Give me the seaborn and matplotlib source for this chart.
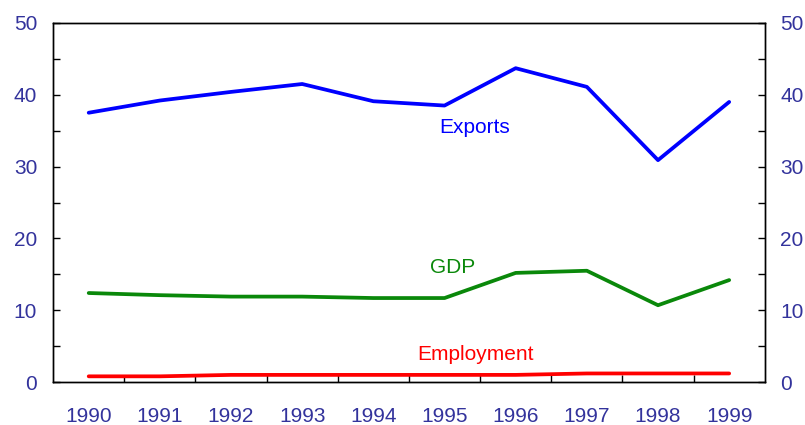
import matplotlib
matplotlib.use("Agg")
import matplotlib.pyplot as plt
import seaborn as sns
import pandas as pd
from matplotlib.ticker import MultipleLocator

years = [1990, 1991, 1992, 1993, 1994, 1995, 1996, 1997, 1998, 1999]
exports = [37.5, 39.2, 40.4, 41.5, 39.1, 38.5, 43.7, 41.1, 30.9, 39.0]
gdp = [12.4, 12.1, 11.9, 11.9, 11.7, 11.7, 15.2, 15.5, 10.7, 14.2]
employment = [0.8, 0.8, 1.0, 1.0, 1.0, 1.0, 1.0, 1.2, 1.2, 1.2]
series_names = ["Exports", "GDP", "Employment"]
colors = ["#0000ff", "#0a880a", "#ff0000"]
y_ticks = [0, 10, 20, 30, 40, 50]

df = pd.DataFrame({"year": years * 3,
                   "value": exports + gdp + employment,
                   "series": sum([[n] * len(years) for n in series_names], [])})

sns.set_style("white")
plt.rcParams['font.family'] = ['Liberation Sans', 'DejaVu Sans']
label_col = "#33339c"
fs = 15

fig = plt.figure(figsize=(8.05, 4.25), dpi=100)
ax = fig.add_axes([0.066, 0.101, 0.884, 0.845])

sns.lineplot(data=df, x="year", y="value", hue="series", palette=dict(zip(series_names, colors)),
             linewidth=2.7, legend=False, ax=ax)

ax.set_xlim(years[0] - 0.5, years[-1] + 0.5)
ax.set_ylim(0, 50)
ax.set_xlabel("")
ax.set_ylabel("")

# years centred in their slot, tick marks on slot boundaries
ax.set_xticks(years)
ax.set_xticklabels([str(y) for y in years])
ax.set_xticks([y + 0.5 for y in years[:-1]], minor=True)
ax.tick_params(axis="x", which="major", length=0, pad=18, labelsize=fs, labelcolor=label_col)
ax.tick_params(axis="x", which="minor", length=5, width=1, direction="in", color="black", bottom=True)

ax.set_yticks(y_ticks)
ax.yaxis.set_minor_locator(MultipleLocator(5))
ax.tick_params(axis="y", which="both", length=5, width=1, direction="in", color="black", left=True,
               pad=11.5, labelsize=fs, labelcolor=label_col)

ax2 = ax.twinx()
ax2.set_ylim(0, 50)
ax2.set_yticks(y_ticks)
ax2.yaxis.set_minor_locator(MultipleLocator(5))
ax2.tick_params(axis="y", which="both", length=5, width=1, direction="in", color="black", right=True,
                pad=11, labelsize=fs, labelcolor=label_col)

for a in (ax, ax2):
    for s in a.spines.values():
        s.set_color("black")
        s.set_linewidth(1.0)

# inline series labels
ax.text(1995.43, 35.5, "Exports", color=colors[0], fontsize=fs, ha="center", va="center")
ax.text(1995.12, 15.9, "GDP", color=colors[1], fontsize=fs, ha="center", va="center")
ax.text(1995.43, 3.8, "Employment", color=colors[2], fontsize=fs, ha="center", va="center")

plt.savefig("out.png", dpi=100)
